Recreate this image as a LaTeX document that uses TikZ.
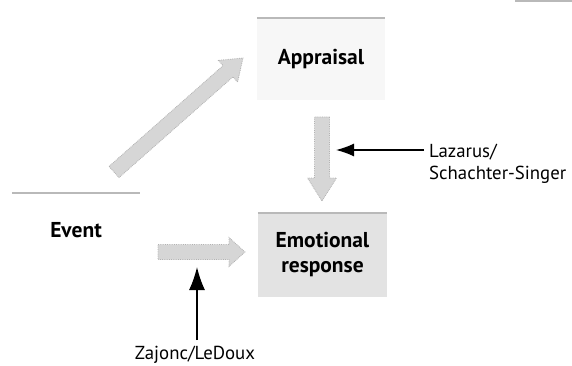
\documentclass[tikz,border=0pt]{standalone}
\usepackage{fontspec}
\setmainfont{PT Sans}
\usetikzlibrary{calc,arrows.meta}
\tikzset{
  box/.style={inner sep=0pt, align=center, font=\fontsize{21.5}{25}\selectfont\bfseries},
  label/.style={inner sep=0pt, align=left, font=\fontsize{18.8}{21.5}\selectfont},
  topline/.style={draw=gray!55, line width=2.5pt},
  fatarrow/.style={fill=gray!32, draw=gray!60, densely dotted, line width=0.8pt},
  blackarrow/.style={draw=black, line width=1.4pt}
}
% #1 start, #2 end, #3 head length
\newcommand\fatarr[3]{%
  \coordinate (hb) at ($(#2)!#3!(#1)$);
  \path[fatarrow] ($(#1)!7.5pt!90:(#2)$) -- ($(hb)!7.5pt!90:(#2)$) -- ($(hb)!14.5pt!90:(#2)$)
    -- (#2) -- ($(hb)!14.5pt!-90:(#2)$) -- ($(hb)!7.5pt!-90:(#2)$) -- ($(#1)!7.5pt!-90:(#2)$) -- cycle;
}
\begin{document}
\begin{tikzpicture}[x=1pt,y=-1pt]
\useasboundingbox (0,0) rectangle (572,366);
% scan artifact at top right
\fill[gray!55] (515,0) rectangle (572,2);

% boxes
\node[box, fill=gray!6, minimum width=128pt, minimum height=82pt] (app) at (321,59) {Appraisal};
\draw[topline] (app.north west) -- (app.north east);

\node[box, minimum width=128pt, minimum height=74pt] (evt) at (76,230) {Event};
\draw[topline] (evt.north west) -- (evt.north east);

\node[box, fill=gray!22, minimum width=129pt, minimum height=84pt] (emo) at (322.5,255) {Emotional\\response};
\draw[topline] (emo.north west) -- (emo.north east);

% gray arrows
\coordinate (d1) at (114,172);
\coordinate (d2) at (243,58);
\fatarr{d1}{d2}{20pt}
\coordinate (v1) at (322,117);
\coordinate (v2) at (322,201);
\fatarr{v1}{v2}{23pt}
\coordinate (h1) at (158,252);
\coordinate (h2) at (245,252);
\fatarr{h1}{h2}{16pt}

% labels and black arrows
\node[label, anchor=north west] (laz) at (429,144) {Lazarus/\\Schachter-Singer};
\coordinate (l1) at (424,150);
\coordinate (l2) at (336,150);
\draw[blackarrow, -{Latex[length=18pt,width=13pt]}] (l1) -- (l2);

\node[label] (zaj) at (195,355) {Zajonc/LeDoux};
\coordinate (z1) at (197,340);
\coordinate (z2) at (197,267);
\draw[blackarrow, -{Latex[length=23pt,width=16pt]}] (z1) -- (z2);
\end{tikzpicture}
\end{document}
